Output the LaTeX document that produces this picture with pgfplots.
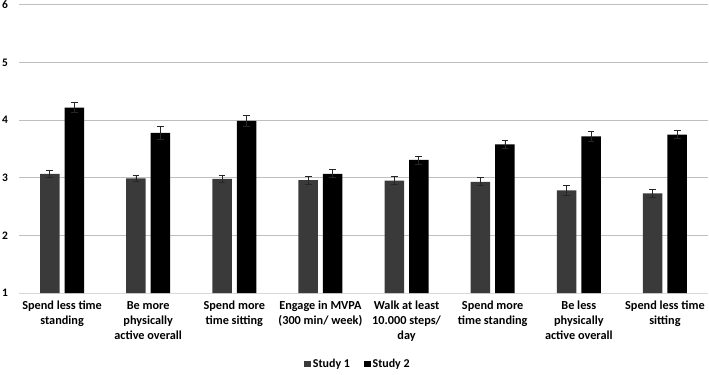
\documentclass[border=0pt]{standalone}
\usepackage{pgfplots}
\pgfplotsset{compat=1.18}
\usepackage{pgfplotstable}
\usepackage{fontspec}
\setmainfont{Carlito}
\usetikzlibrary{calc}
\definecolor{sone}{HTML}{3A3A3A}
\definecolor{grid}{HTML}{D9D9D9}
\pgfplotstableread{
x s1 e1 s2 e2
0 3.07 0.06 4.22 0.09
1 2.99 0.06 3.78 0.11
2 2.98 0.06 3.99 0.09
3 2.96 0.07 3.07 0.07
4 2.95 0.07 3.31 0.07
5 2.93 0.07 3.58 0.07
6 2.78 0.08 3.72 0.09
7 2.73 0.07 3.75 0.07
}\data
\begin{document}
\begin{tikzpicture}
\begin{axis}[
  scale only axis,
  width=689bp, height=288bp,
  ybar=5bp, bar width=19.5bp,
  xmin=-0.5, xmax=7.5, ymin=1, ymax=6,
  ytick={1,2,3,4,5,6},
  xtick={0,...,7},
  xticklabels={{Spend less time\\standing},{Be more\\physically\\active overall},{Spend more\\time sitting},{Engage in MVPA\\(300 min/ week)},{Walk at least\\10.000 steps/\\day},{Spend more\\time standing},{Be less\\physically\\active overall},{Spend less time\\sitting}},
  xticklabel style={anchor=north, inner sep=0pt, yshift=-8bp, align=center, font=\bfseries\fontsize{12.3}{15}\selectfont},
  yticklabel style={anchor=center, inner sep=0pt, xshift=-14bp, font=\bfseries\fontsize{11.5}{13}\selectfont},
  /pgf/number format/assume math mode=true,
  major tick length=0pt,
  ymajorgrids, xmajorgrids=false, grid style={grid, line width=1bp},
  axis lines*=left,
  x axis line style={grid, line width=1bp, -},
  y axis line style={draw=none},
  legend columns=2,
  legend style={draw=none, at={(0.492,-0.2465)}, anchor=center, font=\bfseries\fontsize{12}{14}\selectfont, /tikz/every even column/.append style={column sep=12bp}, inner sep=0pt, nodes={inner sep=2bp}},
  legend image code/.code={\fill[#1] (0bp,-3.3bp) rectangle (6.6bp,3.3bp);},
  error bars/y dir=both, error bars/y explicit,
  error bars/error bar style={line width=0.8bp, color=black!85},
  error bars/error mark options={rotate=90, mark size=3.4bp, line width=0.8bp, color=black!85},
]
\addplot[fill=sone, draw=none] table[x=x, y=s1, y error=e1] {\data};
\addplot[fill=black, draw=none] table[x=x, y=s2, y error=e2] {\data};
\legend{Study 1, Study 2}
\coordinate (sw) at (rel axis cs:0,0);
\coordinate (ne) at (rel axis cs:1,1);
\end{axis}
\pgfresetboundingbox
\path ($(sw)+(-19bp,-81bp)$) rectangle ($(ne)+(1bp,5bp)$);
\end{tikzpicture}
\end{document}
